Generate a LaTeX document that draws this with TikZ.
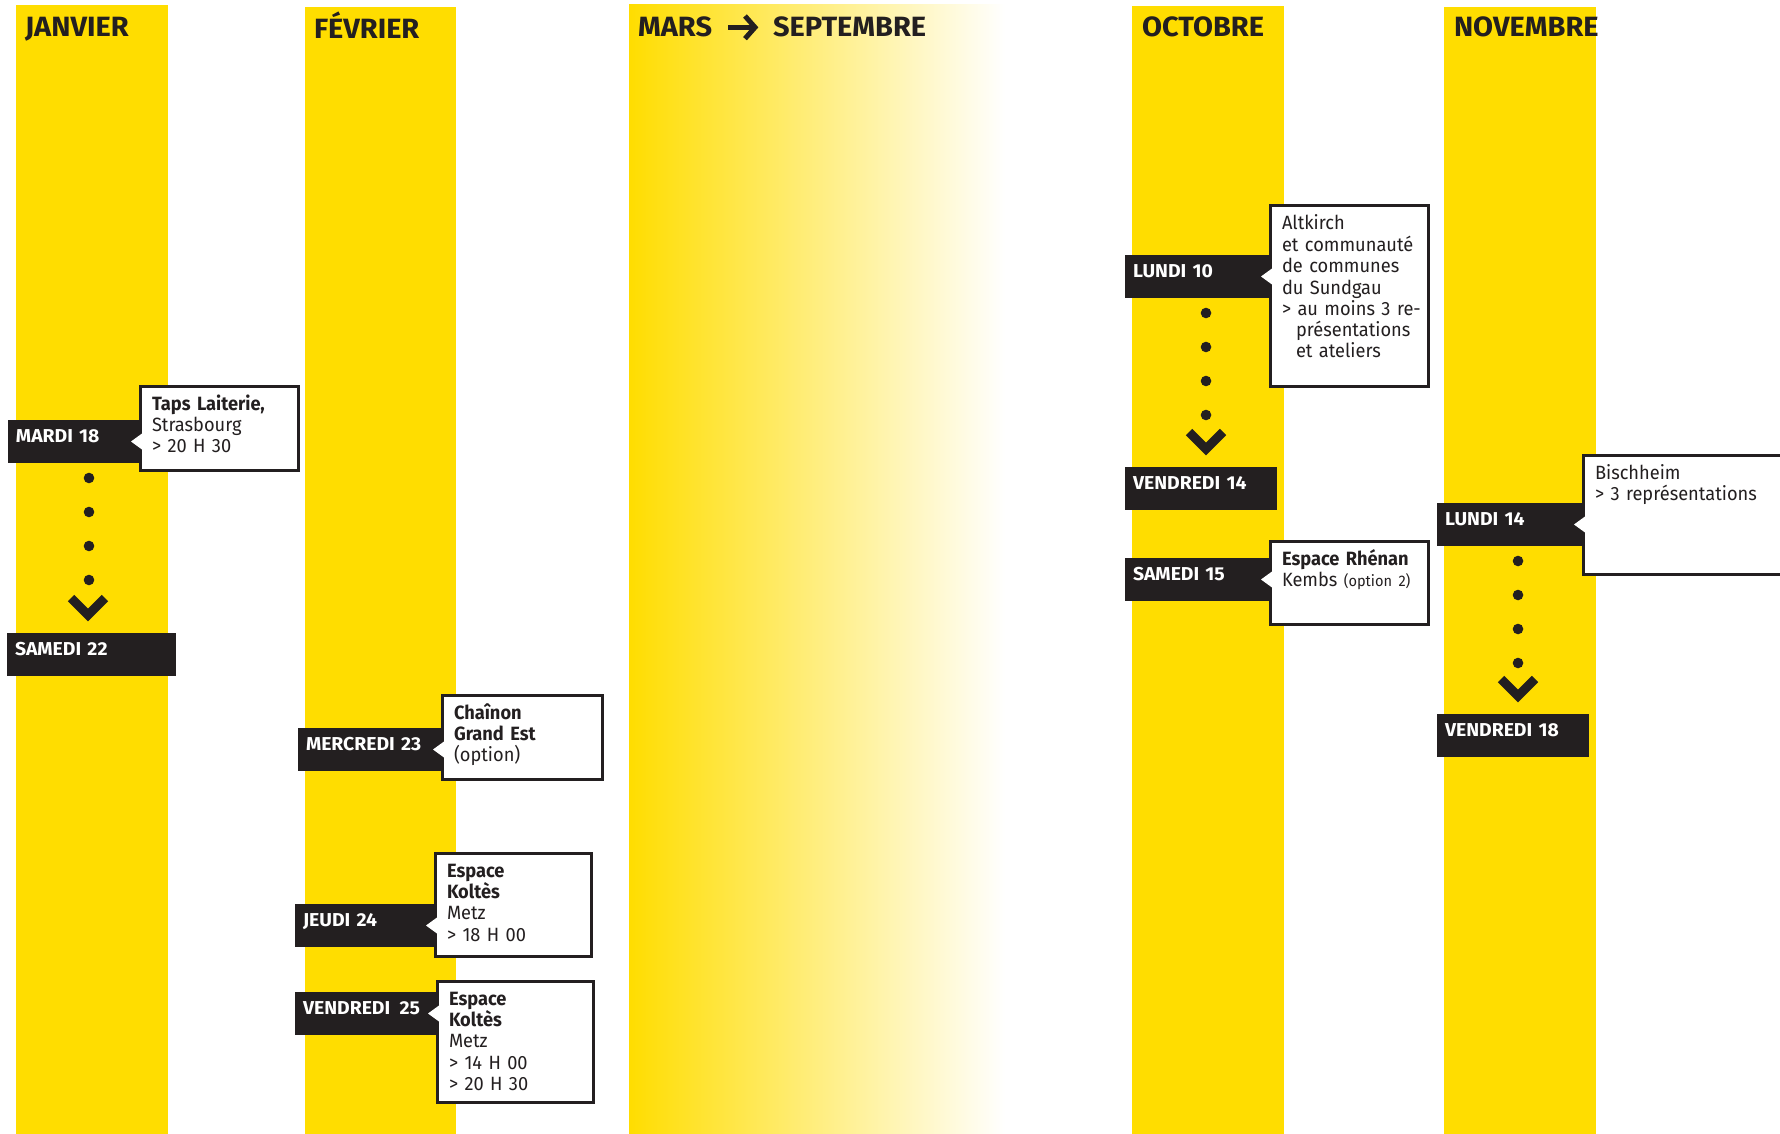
\documentclass[tikz,border=0pt]{standalone}
\usepackage{fontspec}
\setmainfont{Fira Sans}
\newfontfamily\moisfont[FakeStretch=1.04]{Fira Sans}
\newfontfamily\bullefont[FakeStretch=0.95,WordSpace=0.75]{Fira Sans}
\usetikzlibrary{calc,arrows.meta}

\definecolor{jaune}{RGB}{255,221,0}
\definecolor{encre}{RGB}{35,31,32}

\tikzset{every picture/.style={line width=0.75pt}}
\tikzset{
  mois/.style={anchor=base west, inner sep=0pt, outer sep=0pt, text=encre, font=\moisfont\bfseries\fontsize{20.9}{24}\selectfont},
  datebox/.style={anchor=north west, fill=encre, text=white, inner xsep=6pt, inner ysep=0pt, outer sep=0pt,
    text height=16.5pt, text depth=15.75pt, text width=#1, align=left, font=\moisfont\bfseries\fontsize{14}{16}\selectfont},
  bulle/.style n args={2}{anchor=north west, draw=encre, line width=2.25pt, fill=white, inner xsep=9pt, inner ysep=0pt,
    outer sep=0pt, text height=18pt, text depth=#2, text width=#1, align=left, text=encre,
    font=\bullefont\fontsize{14.4}{16}\selectfont, execute at begin node={\hyphenpenalty=10000 \exhyphenpenalty=10000 }},
  chevron/.style={draw=encre, line width=6.75pt, miter limit=10},
  point/.style={fill=encre},
  fleche/.style={draw=encre, line width=3.75pt, -{Straight Barb[length=7.5pt,width=17pt]}, shorten <=12pt, shorten >=11pt},
}

% pointer of a bubble, towards its date
\newcommand\bec[2]{\fill[white] ($(#2.west |- #1.center)+(2,-8)$) -- ($(#2.west |- #1.center)+(-9,0)$) -- ($(#2.west |- #1.center)+(2,8)$) -- cycle;}
% dots and chevron from one date down to the next
\newcommand\laps[2]{%
  \foreach \k in {0,...,3} \fill[point] ($(#1.south west)+(81,15+34*\k)$) circle (5.3);
  \draw[chevron] ($(#2.north west)+(64,-35)$) -- ($(#2.north west)+(81,-18)$) -- ($(#2.north west)+(98,-35)$);}

\begin{document}
\begin{tikzpicture}[x=0.75pt,y=0.75pt,yscale=-1,xscale=1]
\useasboundingbox (0,0) rectangle (1780,1134);

%Shape: month strips
\fill[jaune] (16,5) rectangle (168,1134);
\fill[jaune] (305,7) rectangle (456,1134);
\shade[left color=jaune, right color=white] (629,5) rectangle (1005,1134);
\fill[jaune] (1132,6) rectangle (1284,1134);
\fill[jaune] (1444,7) rectangle (1596,1134);

% Text Node: months
\node[mois] (janvier) at (25,37) {JANVIER};
\node[mois] (fevrier) at (314,39) {FÉVRIER};
\node[mois] (mars) at (638,37) {MARS};
\node[mois] (septembre) at (773,37) {SEPTEMBRE};
\node[mois] (octobre) at (1142,37) {OCTOBRE};
\node[mois] (novembre) at (1454,37) {NOVEMBRE};
\draw[fleche] (mars) -- (septembre);

% Janvier
\node[datebox=90.75pt] (mardi18) at (8,420) {MARDI 18};
\node[datebox=114.75pt] (samedi22) at (7,633) {SAMEDI 22};
\node[bulle={100.5pt}{45pt}] (laiterie) at (140,386) {\textbf{Taps Laiterie,}\\Strasbourg\\> 20 H 30};
\bec{mardi18}{laiterie}
\laps{mardi18}{samedi22}

% Fevrier
\node[datebox=99.75pt] (mercredi23) at (298,728) {MERCREDI 23};
\node[bulle={102pt}{45pt}] (chainon) at (442,695) {\textbf{Chaînon}\\\textbf{Grand Est}\\(option)};
\bec{mercredi23}{chainon}
\node[datebox=96.75pt] (jeudi24) at (295,904) {JEUDI 24};
\node[bulle={99pt}{59.25pt}] (koltesA) at (435,853) {\textbf{Espace}\\\textbf{Koltès}\\Metz\\> 18 H 00};
\bec{jeudi24}{koltesA}
\node[datebox=98.25pt] (vendredi25) at (295,992) {VENDREDI\enspace25};
\node[bulle={99pt}{72.75pt}] (koltesB) at (437,981) {\textbf{Espace}\\\textbf{Koltès}\\Metz\\> 14 H 00\\> 20 H 30};
\bec{vendredi25}{koltesB}

% Octobre
\node[datebox=100.5pt] (lundi10) at (1125,255) {LUNDI 10};
\node[datebox=102pt] (vendredi14) at (1125,467) {VENDREDI 14};
\node[bulle={100.5pt}{117pt}] (altkirch) at (1270,206) {Altkirch\\et~communauté\\de~communes\\du~Sundgau\\>~au~moins~3~re-\\\hspace*{10.5pt}présentations\\\hspace*{10.5pt}et~ateliers};
\bec{lundi10}{altkirch}
\laps{lundi10}{vendredi14}
\node[datebox=100.5pt] (samedi15) at (1125,558) {SAMEDI 15};
\node[bulle={100.5pt}{44.25pt}] (rhenan) at (1270,541) {\textbf{Espace~Rhénan}\\Kembs~{\fontsize{11.5}{16}\selectfont(option~2)}};
\bec{samedi15}{rhenan}

% Novembre
\node[datebox=101.25pt] (lundi14) at (1437,503) {LUNDI 14};
\node[datebox=102pt] (vendredi18) at (1437,714) {VENDREDI 18};
\node[bulle={147pt}{71.25pt}] (bischheim) at (1583,455) {Bischheim\\> 3 représentations};
\bec{lundi14}{bischheim}
\laps{lundi14}{vendredi18}

\end{tikzpicture}
\end{document}
